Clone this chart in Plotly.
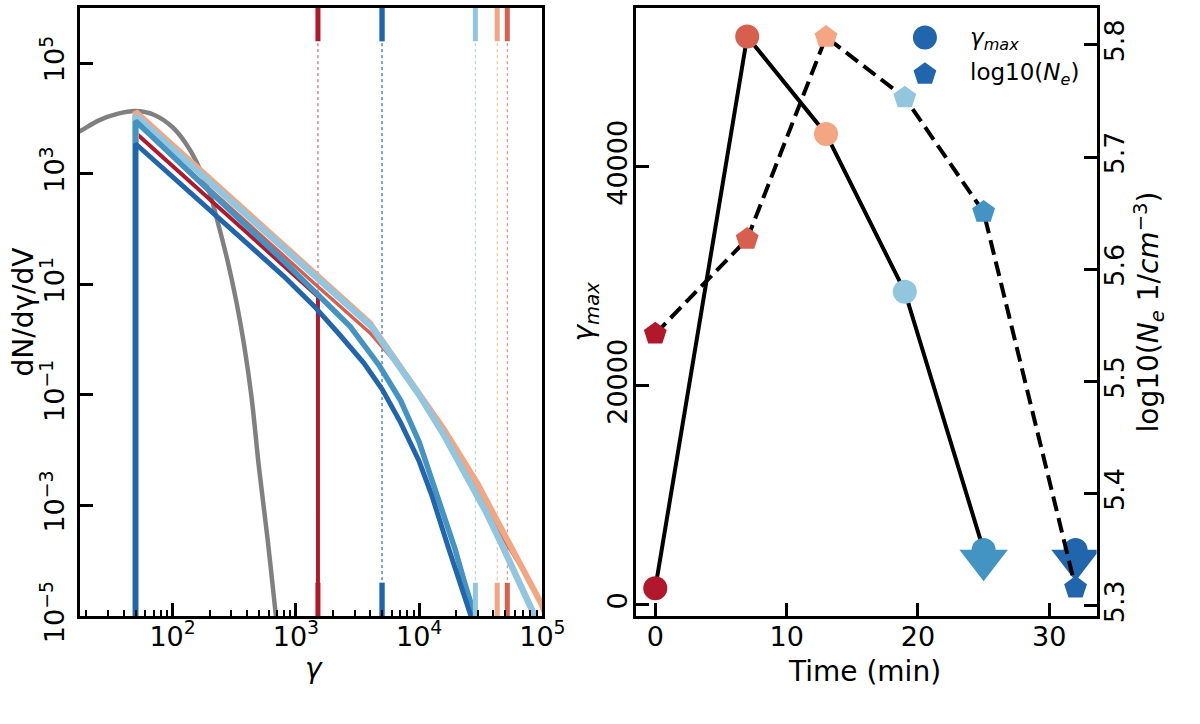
import plotly.graph_objects as go

# colours per epoch (RdBu)
colors = ['#b2182b', '#d6604d', '#f4a582', '#92c5de', '#4393c3', '#2166ac']

# right panel data
times = [0, 7, 13, 19, 25, 32]
gamma_max = [1510, 51900, 43000, 28600, 5000, 5000]
log_ne = [5.5425, 5.627, 5.807, 5.753, 5.651, 5.316]
upper_lim = [False, False, False, False, True, True]

# left panel: thermal (grey) population
thermal_g = [15, 17.8, 25, 35.5, 50, 71, 100, 126, 155, 200, 229, 282, 331, 380, 437, 501, 589, 689, 760]
thermal_n = [5.0e3, 5.9e3, 9.1e3, 1.2e4, 1.35e4, 1.15e4, 6.9e3, 3.7e3, 1.7e3, 440, 150, 24, 4.5,
             0.8, 0.09, 5.0e-3, 2.5e-4, 1.0e-5, 1.3e-6]

# left panel: non-thermal spectra, one per epoch
spec_g = [
    [50, 50, 1510, 1510],
    [50, 50, 1490, 4080, 6650, 1e4, 1.41e4, 1.94e4, 2.95e4, 4.85e4, 7.08e4, 9.77e4, 1.12e5],
    [50, 50, 3980, 6310, 1e4, 1.585e4, 2.95e4, 4.47e4, 5.89e4, 7.59e4, 9.77e4, 1.12e5],
    [50, 50, 4070, 6310, 1e4, 1.585e4, 2.63e4, 3.55e4, 4.85e4, 6.46e4, 8.67e4, 9.55e4],
    [50, 50, 794, 1585, 2750, 4790, 7080, 1e4, 1.26e4, 1.585e4, 1.95e4, 2.34e4, 2.82e4, 3.02e4],
    [50, 50, 794, 1413, 2239, 3548, 5012, 7080, 1e4, 1.26e4, 1.72e4, 2.09e4, 2.63e4, 2.82e4],
]
spec_n = [
    [1e-6, 5.5e3, 6.0, 1e-6],
    [1e-6, 8.5e3, 9.3, 1.26, 0.355, 9.5e-2, 3.2e-2, 1.12e-2, 2.24e-3, 2.5e-4, 6.3e-5, 1.78e-5, 7.9e-6],
    [1e-6, 1.32e4, 2.0, 0.47, 0.112, 2.4e-2, 2.57e-3, 4.47e-4, 1.58e-4, 5.2e-5, 1.7e-5, 7.9e-6],
    [1e-6, 1.12e4, 1.75, 0.44, 0.10, 1.9e-2, 2.4e-3, 7.1e-4, 1.66e-4, 4.2e-5, 1.0e-5, 6.3e-6],
    [1e-6, 8.9e3, 26.3, 5.75, 1.74, 0.33, 7.9e-2, 1.41e-2, 3.16e-3, 7.1e-4, 1.66e-4, 4.0e-5, 1.0e-5, 6.3e-6],
    [1e-6, 3.47e3, 14.1, 3.98, 1.26, 0.38, 0.126, 3.16e-2, 6.3e-3, 1.58e-3, 1.78e-4, 4.5e-5, 1.0e-5, 6.3e-6],
]
spec_width = [4, 3.5, 6, 6.5, 5.5, 5]

FONT = 'DejaVu Sans'
FS = 27
X_LOG_RANGE = [1.248, 5.0]
Y_LOG_RANGE = [-5, 6]
G_RANGE = [-1030, 54530]
NE_RANGE = [5.2908, 5.8332]
PLOT_H = 632  # px height of both panels
TRI_SHIFT = 10.5  # px, puts the base of the limit triangle on the point

fig = go.Figure()

# thin dotted guides + thick ticks marking gamma_max
y_lo, y_hi = Y_LOG_RANGE
mark = 0.055 * (y_hi - y_lo)
for g, c in zip(gamma_max, colors):
    fig.add_trace(go.Scatter(x=[g, g], y=[10 ** y_lo, 10 ** y_hi], mode='lines',
                             line=dict(color=c, width=0.8, dash='dot'),
                             xaxis='x', yaxis='y', showlegend=False, hoverinfo='skip'))

fig.add_trace(go.Scatter(x=thermal_g, y=thermal_n, mode='lines', line=dict(color='#808080', width=4.5, shape='spline'),
                         xaxis='x', yaxis='y', showlegend=False))
for g, n, c, w in zip(spec_g, spec_n, colors, spec_width):
    fig.add_trace(go.Scatter(x=g, y=n, mode='lines', line=dict(color=c, width=w),
                             xaxis='x', yaxis='y', showlegend=False))

for g, c in zip(gamma_max, colors):
    for a, b in [(y_hi - mark, y_hi), (y_lo, y_lo + mark)]:
        fig.add_trace(go.Scatter(x=[g, g], y=[10 ** a, 10 ** b], mode='lines',
                                 line=dict(color=c, width=5),
                                 xaxis='x', yaxis='y', showlegend=False, hoverinfo='skip'))

# right panel: gamma_max vs time
fig.add_trace(go.Scatter(x=times[:5], y=gamma_max[:5], mode='lines', line=dict(color='black', width=4),
                         xaxis='x2', yaxis='y2', showlegend=False))
fig.add_trace(go.Scatter(x=times, y=gamma_max, mode='markers',
                         marker=dict(color=colors, size=24, symbol='circle', line=dict(width=0)),
                         xaxis='x2', yaxis='y2', showlegend=False))
lim_t = [t for t, u in zip(times, upper_lim) if u]
lim_g = [g for g, u in zip(gamma_max, upper_lim) if u]
lim_c = [c for c, u in zip(colors, upper_lim) if u]
fig.add_trace(go.Scatter(x=lim_t, y=lim_g, mode='markers',
                         marker=dict(color=lim_c, size=42, symbol='triangle-down', line=dict(width=0)),
                         xaxis='x2', yaxis='y3', showlegend=False))

# right panel: log10(Ne) on twin axis
fig.add_trace(go.Scatter(x=times, y=log_ne, mode='lines', line=dict(color='black', width=4, dash='15px,7px'),
                         xaxis='x2', yaxis='y4', showlegend=False))
fig.add_trace(go.Scatter(x=times, y=log_ne, mode='markers',
                         marker=dict(color=colors, size=24, symbol='pentagon', line=dict(width=0)),
                         xaxis='x2', yaxis='y4', showlegend=False))

# hand-made legend (pixel axis over the whole page)
fig.add_trace(go.Scatter(x=[943], y=[39], mode='markers', marker=dict(color='#2166ac', size=24, symbol='circle'),
                         xaxis='x5', yaxis='y5', showlegend=False, hoverinfo='skip'))
fig.add_trace(go.Scatter(x=[943], y=[77], mode='markers', marker=dict(color='#2166ac', size=24, symbol='pentagon'),
                         xaxis='x5', yaxis='y5', showlegend=False, hoverinfo='skip'))

axis_style = dict(showline=True, linecolor='black', linewidth=3, mirror=True, ticks='inside',
                  ticklen=13, tickwidth=2.5, tickcolor='black', showgrid=False, zeroline=False,
                  tickfont=dict(family=FONT, size=FS, color='black'))

sup = lambda p: '10<sup>' + ('\u2212' if p < 0 else '') + str(abs(p)) + '</sup>'
x_dec = [2, 3, 4, 5]
y_dec = [-5, -3, -1, 1, 3, 5]
x_minor = [k * 10 ** p for p in [1, 2, 3, 4] for k in range(2, 10)]

dom_y = [84 / 724, 716 / 724]
tri_d = TRI_SHIFT / PLOT_H * (G_RANGE[1] - G_RANGE[0])

fig.update_layout(
    width=1200, height=724, margin=dict(l=0, r=0, t=0, b=0),
    plot_bgcolor='rgba(0,0,0,0)', paper_bgcolor='white', showlegend=False,
    font=dict(family=FONT, size=FS, color='black'),
    xaxis=dict(axis_style, domain=[81.5 / 1200, 553 / 1200], type='log', range=X_LOG_RANGE, anchor='y',
               tickmode='array', tickvals=[10 ** p for p in x_dec], ticktext=[sup(p) for p in x_dec],
               ticklabelstandoff=-6,
               minor=dict(ticks='inside', ticklen=6, tickwidth=2, tickcolor='black',
                          tickmode='array', tickvals=x_minor, showgrid=False)),
    yaxis=dict(axis_style, domain=dom_y, type='log', range=Y_LOG_RANGE, anchor='x',
               tickmode='array', tickvals=[10 ** p for p in y_dec], ticktext=[sup(p) for p in y_dec],
               tickangle=-90, ticklabelstandoff=2),
    xaxis2=dict(axis_style, domain=[648 / 1200, 1118 / 1200], range=[-1.5, 33.6], anchor='y2',
                tickmode='array', tickvals=[0, 10, 20, 30], ticklabelstandoff=-6),
    yaxis2=dict(axis_style, domain=dom_y, range=G_RANGE, anchor='x2',
                tickmode='array', tickvals=[0, 20000, 40000], ticktext=['0', '20000', '40000'],
                tickangle=-90, ticklabelstandoff=-5),
    yaxis3=dict(overlaying='y2', anchor='x2', range=[G_RANGE[0] + tri_d, G_RANGE[1] + tri_d],
                showticklabels=False, ticks='', showline=False, showgrid=False, zeroline=False),
    yaxis4=dict(ticks='inside', ticklen=13, tickwidth=2.5, tickcolor='black', showgrid=False, zeroline=False,
                showline=False, overlaying='y2', side='right', anchor='x2', range=NE_RANGE,
                tickmode='array', tickvals=[5.3, 5.4, 5.5, 5.6, 5.7, 5.8],
                ticktext=['5.3', '5.4', '5.5', '5.6', '5.7', '5.8'], ticklabelstandoff=-1,
                tickangle=-90, tickfont=dict(family=FONT, size=FS, color='black')),
    xaxis5=dict(domain=[0, 1], range=[0, 1200], anchor='y5', showticklabels=False, ticks='',
                showline=False, showgrid=False, zeroline=False),
    yaxis5=dict(domain=[0, 1], range=[724, 0], anchor='x5', showticklabels=False, ticks='',
                showline=False, showgrid=False, zeroline=False),
)

ann = dict(xref='paper', yref='paper', showarrow=False, xanchor='center', yanchor='middle',
           font=dict(family=FONT, size=28, color='black'))
fig.add_annotation(ann, text='dN/d\u03b3/dV', x=24 / 1200, y=1 - 324 / 724, textangle=-90)
fig.add_annotation(ann, text='<i>\u03b3</i>', x=320 / 1200, y=1 - 694 / 724)
fig.add_annotation(ann, text='Time (min)', x=881 / 1200, y=1 - 698 / 724)
fig.add_annotation(ann, text='<i>\u03b3<sub>max</sub></i>', x=597 / 1200, y=1 - 324 / 724, textangle=-90)
fig.add_annotation(ann, text='log10(<i>N</i><sub><i>e</i></sub> 1/<i>cm</i><sup>\u22123</sup>)',
                   x=1172 / 1200, y=1 - 324 / 724, textangle=-90)

leg = dict(xref='paper', yref='paper', showarrow=False, xanchor='left', yanchor='middle',
           font=dict(family=FONT, size=23, color='black'))
fig.add_annotation(leg, text='<i>\u03b3<sub>max</sub></i>', x=987 / 1200, y=1 - 41 / 724)
fig.add_annotation(leg, text='log10(<i>N</i><sub><i>e</i></sub>)', x=987 / 1200, y=1 - 77 / 724)

fig.write_html('out.html', config={'displayModeBar': False},
               post_script="document.body.style.margin='0';")
